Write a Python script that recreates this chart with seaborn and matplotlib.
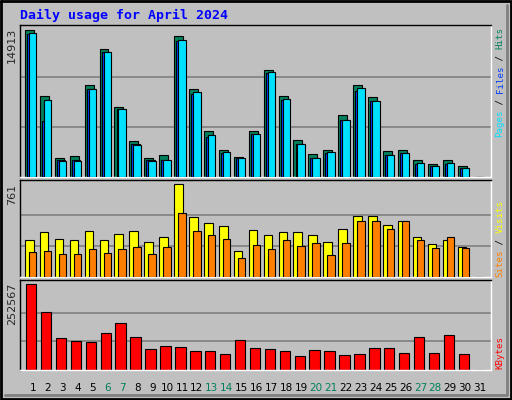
import numpy as np
import matplotlib
matplotlib.use("Agg")
import matplotlib.pyplot as plt
import seaborn as sns

days = list(range(1, 32))
hits = [14590, 7980, 1910, 2040, 9070, 12660, 6910, 3550, 1910, 2200, 13950, 8680, 4570, 2700, 2010, 4570, 10600, 8030, 3650, 2300, 2700, 6150, 9070, 7960, 2600, 2700, 1710, 1320, 1710, 1120, 0]
files = [14200, 5590, 1710, 1710, 8680, 12340, 6710, 3290, 1710, 1710, 13420, 8190, 4010, 2400, 1910, 4280, 10300, 7640, 3290, 1910, 2400, 5660, 8490, 7570, 2200, 2400, 1320, 1050, 1320, 920, 0]
pages = [14300, 7630, 1610, 1610, 8680, 12370, 6710, 3190, 1610, 1710, 13560, 8420, 4180, 2500, 1910, 4280, 10400, 7730, 3290, 1910, 2500, 5660, 8820, 7570, 2200, 2400, 1420, 1120, 1420, 920, 0]
visits = [300, 366, 316, 308, 382, 308, 357, 382, 291, 332, 761, 489, 440, 415, 217, 390, 341, 366, 366, 349, 291, 398, 499, 499, 426, 459, 325, 275, 308, 250, 0]
sites = [209, 217, 192, 192, 233, 201, 233, 250, 192, 250, 522, 382, 349, 316, 159, 266, 233, 300, 258, 283, 184, 283, 457, 464, 398, 464, 308, 242, 325, 242, 0]
kbytes = [252567, 169600, 94900, 86600, 81100, 108800, 139200, 97700, 61700, 70000, 67300, 56200, 56200, 47900, 89400, 64500, 61700, 56200, 42400, 59000, 56200, 45100, 47900, 64500, 64500, 50700, 97700, 50700, 103300, 47900, 0]
weekend = [6, 7, 13, 14, 20, 21, 27, 28]

sns.set_style("white")
plt.rcParams["font.family"] = ["DejaVu Sans Mono", "DejaVu Sans"]

W, H = 512, 400
fig = plt.figure(figsize=(W / 100, H / 100), dpi=100, facecolor="#C0C0C0")

def box(x0, y0, x1, y1):
    return [x0 / W, 1 - y1 / H, (x1 - x0) / W, (y1 - y0) / H]

# border
frame = fig.add_axes([0, 0, 1, 1], zorder=-5)
frame.set_xlim(0, W); frame.set_ylim(H, 0); frame.axis("off")
frame.plot([1, W - 1, W - 1, 1, 1], [1, 1, H - 1, H - 1, 1], color="black", lw=2)
frame.plot([W - 5, W - 5, 5], [5, H - 5, H - 5], color="#808080", lw=2)

x = np.array(days)
grid_kw = dict(color="#808080", lw=1.2, zorder=0)

ax1 = fig.add_axes(box(20, 25, 491, 177))
ax2 = fig.add_axes(box(20, 180, 491, 277))
ax3 = fig.add_axes(box(20, 280, 491, 370))

for ax in (ax1, ax2, ax3):
    ax.set_facecolor("#C0C0C0")
    ax.set_xlim(0.13, 31.7)
    ax.set_xticks([]); ax.set_yticks([])
    for s in ax.spines.values():
        s.set_color("black"); s.set_linewidth(1)
    ax.spines["right"].set_color("white"); ax.spines["bottom"].set_color("white")

ax1.set_ylim(0, 15050)
for g in (4971, 9942):
    ax1.axhline(g, **grid_kw)
ax1.bar(x - 0.54, hits, width=0.6, align="edge", color="#00805C", edgecolor="black", lw=0.8, zorder=2)
ax1.bar(x - 0.4, files, width=0.55, align="edge", color="#0040FF", edgecolor="black", lw=0.8, zorder=3)
ax1.bar(x - 0.27, pages, width=0.5, align="edge", color="#00E0FF", edgecolor="black", lw=0.8, zorder=4)

ax2.set_ylim(0, 797)
for g in (254, 507):
    ax2.axhline(g, **grid_kw)
ax2.bar(x - 0.54, visits, width=0.58, align="edge", color="#FFFF00", edgecolor="black", lw=0.8, zorder=2)
ax2.bar(x - 0.27, sites, width=0.5, align="edge", color="#FF8000", edgecolor="black", lw=0.8, zorder=3)

ax3.set_ylim(0, 264500)
for g in (84189, 168378):
    ax3.axhline(g, **grid_kw)
ax3.bar(x - 0.47, kbytes, width=0.7, align="edge", color="#FF0000", edgecolor="black", lw=0.8, zorder=2)

# title and max labels
fig.text(20 / W, 1 - 15 / H, "Daily usage for April 2024", color="#0000FF",
         fontsize=9.5, fontweight="bold", va="center", ha="left")
for txt, y in (("14913", 28), ("761", 184), ("252567", 283)):
    fig.text(17 / W, 1 - y / H, txt, rotation=90, fontsize=8, ha="right", va="top",
             family=["DejaVu Sans"])

def side(parts, ybot):
    y = ybot
    for txt, col in parts:
        fig.text(500 / W, 1 - y / H, txt, rotation=90, color=col, fontsize=6.6,
                 ha="center", va="bottom")
        y -= len(txt) * 5.5

side([("Pages", "#00E0FF"), (" / ", "#000000"), ("Files", "#0040FF"), (" / ", "#000000"), ("Hits", "#00805C")], 137)
side([("Sites", "#FF8000"), (" / ", "#000000"), ("Visits", "#FFFF00")], 277)
side([("KBytes", "#FF0000")], 369)

# day labels
for d in days:
    px = 33 + (d - 1) * 14.9
    fig.text(px / W, 1 - 388 / H, str(d), ha="center", va="center", fontsize=7.5,
             color="#00805C" if d in weekend else "black", family=["DejaVu Sans"])

fig.savefig("out.png", dpi=100, facecolor=fig.get_facecolor())
